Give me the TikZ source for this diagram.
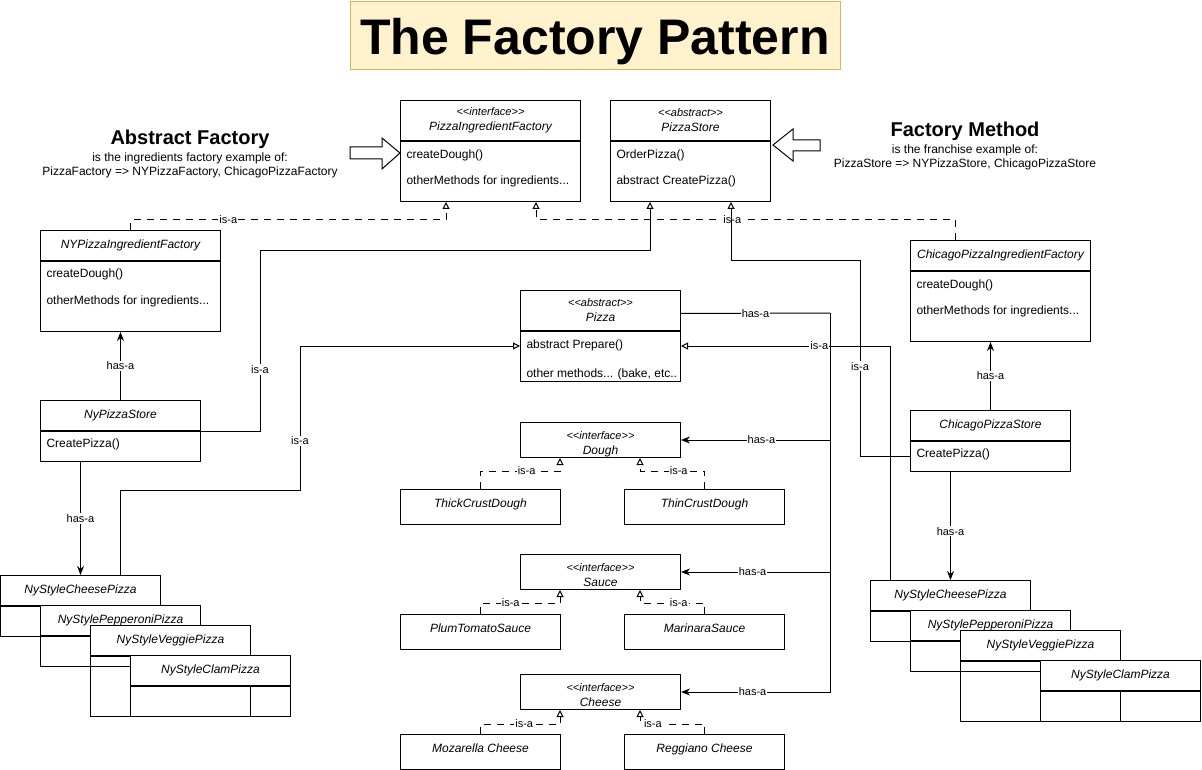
\documentclass[tikz,border=0pt]{standalone}
\usepackage{fontspec}
\setmainfont{Liberation Sans}
\usetikzlibrary{arrows.meta}
\definecolor{titlefill}{HTML}{FFF2CC}
\definecolor{titledraw}{HTML}{D6B656}
\newcommand{\stereo}[1]{{\fontsize{11}{12}\selectfont\textless\kern0pt\textless#1\textgreater\kern0pt\textgreater}}
\tikzstyle{classHead} = [
 rectangle,
 draw,
 fill=white,
 anchor=north west,
 inner sep=0pt,
 align=center,
 minimum width=160pt,
 minimum height=30pt,
 font=\fontsize{12}{15}\selectfont\itshape
]
\tikzstyle{ifaceHead} = [
 classHead,
 minimum height=35pt,
 text height=29pt,
 text depth=0pt
]
\tikzstyle{implBox} = [
 classHead,
 minimum height=35pt,
 text depth=7pt
]
\tikzstyle{classBody} = [
 rectangle,
 draw,
 anchor=north west,
 inner sep=0pt,
 minimum width=160pt,
 minimum height=30pt
]
\tikzstyle{member} = [anchor=west, inner sep=0pt, font=\fontsize{12}{15}\selectfont]
\tikzstyle{lbl} = [fill=white, inner sep=1pt, font=\fontsize{11}{13}\selectfont]
\tikzstyle{hasa} = [-{Stealth[length=9pt,width=7pt]}]
\tikzstyle{isa} = [-{Triangle[fill=white,length=7pt,width=7pt]}]
\tikzstyle{isaDashed} = [isa, dash pattern=on 7pt off 6pt]

\begin{document}
\begin{tikzpicture}[x=1pt, y=-1pt, line width=1pt]
  \useasboundingbox (0,0) rectangle (1202,770);

  \node [draw=titledraw, fill=titlefill, minimum width=490pt, minimum height=68pt, text depth=0pt,
    font=\fontsize{50}{60}\selectfont\bfseries] (title) at (595,36) {The Factory Pattern};

  \node [font=\fontsize{20}{24}\selectfont\bfseries] (afTitle) at (190,139) {Abstract Factory};
  \node [align=center, font=\fontsize{12}{14}\selectfont] (afText) at (190,165)
    {is the ingredients factory example of:\\ PizzaFactory => NYPizzaFactory, ChicagoPizzaFactory};
  \node [font=\fontsize{20}{24}\selectfont\bfseries] (fmTitle) at (965,131) {Factory Method};
  \node [align=center, font=\fontsize{12}{14}\selectfont] (fmText) at (965,157)
    {is the franchise example of:\\ PizzaStore => NYPizzaStore, ChicagoPizzaStore};

  \draw [fill=white] (350,147) -- (382,147) -- (382,138) -- (400,153) -- (382,169) -- (382,159) -- (350,159) -- cycle;
  \draw [fill=white] (820,140) -- (793,140) -- (793,129) -- (773,145) -- (793,161) -- (793,151) -- (820,151) -- cycle;

  % factories and stores
  \node [classHead, minimum width=180pt, minimum height=40pt] (pif) at (400,100) {\stereo{interface}\\ PizzaIngredientFactory};
  \node [classBody, minimum width=180pt, minimum height=60pt] (pif-b) at (pif.south west) {};
  \node [member] (pif-m1) at ([shift={(6,14)}]pif-b.north west) {createDough()};
  \node [member] (pif-m2) at ([shift={(6,40)}]pif-b.north west) {otherMethods for ingredients...};

  \node [classHead, minimum height=40pt] (ps) at (610,100) {\stereo{abstract}\\ PizzaStore};
  \node [classBody, minimum height=60pt] (ps-b) at (ps.south west) {};
  \node [member] (ps-m1) at ([shift={(6,14)}]ps-b.north west) {OrderPizza()};
  \node [member] (ps-m2) at ([shift={(6,40)}]ps-b.north west) {abstract CreatePizza()};

  \node [classHead, minimum width=180pt] (nypif) at (40,230) {NYPizzaIngredientFactory};
  \node [classBody, minimum width=180pt, minimum height=70pt] (nypif-b) at (nypif.south west) {};
  \node [member] (nypif-m1) at ([shift={(6,13)}]nypif-b.north west) {createDough()};
  \node [member] (nypif-m2) at ([shift={(6,40)}]nypif-b.north west) {otherMethods for ingredients...};

  \node [classHead, minimum width=180pt] (cpif) at (910,240) {ChicagoPizzaIngredientFactory};
  \node [classBody, minimum width=180pt, minimum height=70pt] (cpif-b) at (cpif.south west) {};
  \node [member] (cpif-m1) at ([shift={(6,14)}]cpif-b.north west) {createDough()};
  \node [member] (cpif-m2) at ([shift={(6,40)}]cpif-b.north west) {otherMethods for ingredients...};

  \node [classHead] (nyps) at (40,400) {NyPizzaStore};
  \node [classBody] (nyps-b) at (nyps.south west) {};
  \node [member] (nyps-m1) at ([shift={(6,13)}]nyps-b.north west) {CreatePizza()};

  \node [classHead] (cps) at (910,410) {ChicagoPizzaStore};
  \node [classBody] (cps-b) at (cps.south west) {};
  \node [member] (cps-m1) at ([shift={(6,13)}]cps-b.north west) {CreatePizza()};

  % pizza and ingredients
  \node [classHead, minimum height=40pt] (pz) at (520,290) {\stereo{abstract}\\ Pizza};
  \node [classBody, minimum height=50pt] (pz-b) at (pz.south west) {};
  \node [member] (pz-m1) at ([shift={(6,14)}]pz-b.north west) {abstract Prepare()};
  \node [member] (pz-m2) at ([shift={(6,43)}]pz-b.north west) {other methods... (bake, etc..};

  \node [ifaceHead] (dough) at (520,422) {\stereo{interface}\\ Dough};
  \node [implBox] (thick) at (400,489) {ThickCrustDough};
  \node [implBox] (thin) at (624,489) {ThinCrustDough};

  \node [ifaceHead] (sauce) at (520,554) {\stereo{interface}\\ Sauce};
  \node [implBox] (plum) at (400,614) {PlumTomatoSauce};
  \node [implBox] (marinara) at (624,614) {MarinaraSauce};

  \node [ifaceHead] (cheese) at (520,674) {\stereo{interface}\\ Cheese};
  \node [implBox] (mozarella) at (400,734) {Mozarella Cheese};
  \node [implBox] (reggiano) at (624,734) {Reggiano Cheese};

  % pizza stacks
  \node [classHead] (lc1) at (0,575) {NyStyleCheesePizza};
  \node [classBody] (lc1-b) at (lc1.south west) {};
  \node [classHead] (lc2) at (40,605) {NyStylePepperoniPizza};
  \node [classBody] (lc2-b) at (lc2.south west) {};
  \node [classHead] (lc3) at (90,625) {NyStyleVeggiePizza};
  \node [classBody, minimum height=60pt] (lc3-b) at (lc3.south west) {};
  \node [classHead] (lc4) at (130,655) {NyStyleClamPizza};
  \node [classBody] (lc4-b) at (lc4.south west) {};

  \node [classHead] (rc1) at (870,580) {NyStyleCheesePizza};
  \node [classBody] (rc1-b) at (rc1.south west) {};
  \node [classHead] (rc2) at (910,610) {NyStylePepperoniPizza};
  \node [classBody] (rc2-b) at (rc2.south west) {};
  \node [classHead] (rc3) at (960,630) {NyStyleVeggiePizza};
  \node [classBody, minimum height=60pt] (rc3-b) at (rc3.south west) {};
  \node [classHead] (rc4) at (1040,660) {NyStyleClamPizza};
  \node [classBody] (rc4-b) at (rc4.south west) {};

  % is-a
  \draw [isaDashed] (nypif.north) |- node[lbl, pos=0.655] {is-a} (446,220) -- ([xshift=46pt]pif-b.south west);
  \draw [isaDashed] ([xshift=-45pt]cpif.north) |- node[lbl, pos=0.766] {is-a} (536,220) -- ([xshift=136pt]pif-b.south west);
  \draw [isa] (nyps-b.north east) -| node[lbl, pos=0.67] {is-a} (260,250) -| ([xshift=40pt]ps-b.south west);
  \draw [isa] (cps-b.west) -| node[lbl, pos=0.73] {is-a} (860,260) -| ([xshift=121pt]ps-b.south west);
  \draw [isa] ([xshift=40pt]lc1.north) |- (300,490) |- node[lbl, pos=0.17] {is-a} ([yshift=-15pt]pz-b.north west);
  \draw [isa] ([xshift=-60pt]rc1.north) |- node[lbl, pos=0.67] {is-a} ([yshift=-15pt]pz-b.north east);

  \draw [isaDashed] (thick.north) |- node[lbl, pos=0.79] {is-a} (560,471) -- ([xshift=40pt]dough.south west);
  \draw [isaDashed] (thin.north) |- node[lbl, pos=0.70] {is-a} (640,471) -- ([xshift=120pt]dough.south west);
  \draw [isaDashed] (plum.north) |- node[lbl, pos=0.69] {is-a} (560,603) -- ([xshift=40pt]sauce.south west);
  \draw [isaDashed] (marinara.north) |- node[lbl, pos=0.70] {is-a} (640,603) -- ([xshift=120pt]sauce.south west);
  \draw [isaDashed] (mozarella.north) |- node[lbl, pos=0.775] {is-a} (560,724) -- ([xshift=40pt]cheese.south west);
  \draw [isaDashed] (reggiano.north) |- node[lbl, pos=0.9] {is-a} (640,724) -- ([xshift=120pt]cheese.south west);

  % has-a
  \draw [hasa] (nyps.north) -- node[lbl] {has-a} (nyps.north |- nypif-b.south);
  \draw [hasa] (cps.north) -- node[lbl] {has-a} (cps.north |- cpif-b.south);
  \draw [hasa] ([xshift=-40pt]nyps-b.south) -- node[lbl] {has-a} (lc1.north);
  \draw [hasa] ([xshift=-40pt]cps-b.south) -- node[lbl, pos=0.55] {has-a} (rc1.north);

  \coordinate (bus) at (830,313);
  \draw ([yshift=-3pt]pz.east) -- node[lbl] {has-a} (bus);
  \draw [hasa] (bus) |- node[lbl, pos=0.73] {has-a} (dough.east);
  \draw [hasa] (bus) |- node[lbl, pos=0.76] {has-a} (sauce.east);
  \draw [hasa] (bus) |- node[lbl, pos=0.76] {has-a} (cheese.east);
\end{tikzpicture}
\end{document}
